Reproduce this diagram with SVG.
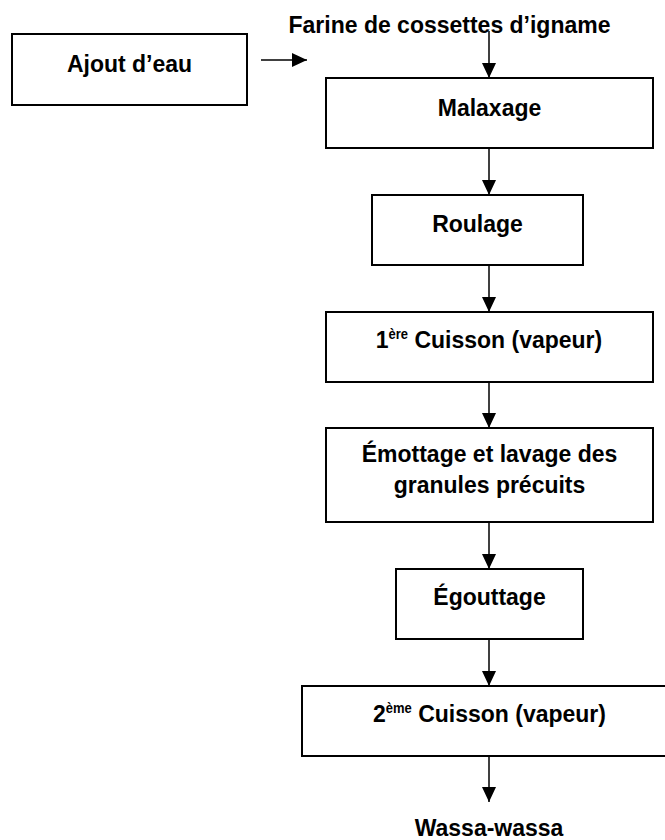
<svg xmlns="http://www.w3.org/2000/svg" width="665" height="840" viewBox="0 0 665 840">
<style>
.box{fill:#fff;stroke:#000;stroke-width:2}
.t{font-family:"Liberation Sans",Arial,sans-serif;font-weight:bold;font-size:23px;fill:#000;text-anchor:middle}
.sup{font-size:13px}
.c{stroke:#000;stroke-width:1.5;fill:none}
</style>
<defs>
<marker id="ah" markerUnits="userSpaceOnUse" markerWidth="15" markerHeight="14" refX="15" refY="7" orient="auto">
<path d="M0,0 L15,7 L0,14 z" fill="#000"/>
</marker>
</defs>
<rect width="665" height="840" fill="#fff"/>
<g id="connectors">
<line class="c" x1="261" y1="60" x2="307" y2="60" marker-end="url(#ah)"/>
<line class="c" x1="489" y1="31" x2="489" y2="78" marker-end="url(#ah)"/>
<line class="c" x1="489" y1="148" x2="489" y2="195" marker-end="url(#ah)"/>
<line class="c" x1="489" y1="265" x2="489" y2="312" marker-end="url(#ah)"/>
<line class="c" x1="489" y1="382" x2="489" y2="428" marker-end="url(#ah)"/>
<line class="c" x1="489" y1="522" x2="489" y2="569" marker-end="url(#ah)"/>
<line class="c" x1="489" y1="639" x2="489" y2="686" marker-end="url(#ah)"/>
<line class="c" x1="489" y1="756" x2="489" y2="802" marker-end="url(#ah)"/>
</g>
<g id="farine"><text class="t" transform="translate(449.5,33) scale(1,1.08)">Farine de cossettes d’igname</text></g>
<g id="ajout"><rect class="box" x="12" y="34" width="235" height="71"/><text class="t" transform="translate(129.5,72) scale(1,1.08)">Ajout d’eau</text></g>
<g id="malaxage"><rect class="box" x="326" y="78" width="327" height="70"/><text class="t" transform="translate(489.5,116) scale(1,1.08)">Malaxage</text></g>
<g id="roulage"><rect class="box" x="372" y="195" width="211" height="70"/><text class="t" transform="translate(477.5,232) scale(1,1.08)">Roulage</text></g>
<g id="cuisson1"><rect class="box" x="326" y="312" width="327" height="70"/><text class="t" transform="translate(489,348) scale(1,1.08)">1<tspan class="sup" dy="-8">ère</tspan><tspan dy="8"> Cuisson (vapeur)</tspan></text></g>
<g id="emottage"><rect class="box" x="326" y="428" width="327" height="94"/><text class="t" transform="translate(489.5,462) scale(1,1.08)">Émottage et lavage des</text><text class="t" transform="translate(489.5,493) scale(1,1.08)">granules précuits</text></g>
<g id="egouttage"><rect class="box" x="396" y="569" width="187" height="70"/><text class="t" transform="translate(489.5,605) scale(1,1.08)">Égouttage</text></g>
<g id="cuisson2"><rect class="box" x="302" y="686" width="376" height="70"/><text class="t" transform="translate(489.5,722) scale(1,1.08)">2<tspan class="sup" dy="-8">ème</tspan><tspan dy="8"> Cuisson (vapeur)</tspan></text></g>
<g id="wassa"><text class="t" transform="translate(489,836) scale(1,1.08)">Wassa-wassa</text></g>
</svg>
